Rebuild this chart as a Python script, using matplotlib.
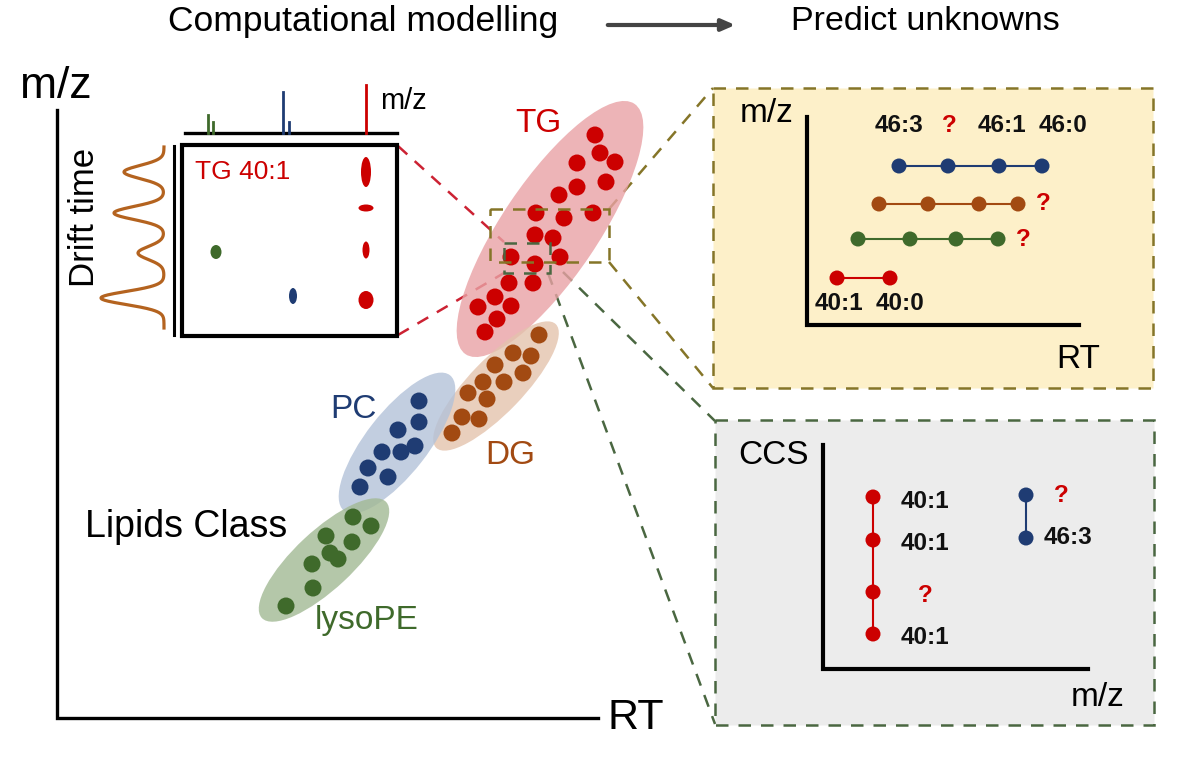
import numpy as np
import matplotlib
matplotlib.use("Agg")
import matplotlib.pyplot as plt
from matplotlib.patches import Ellipse, Rectangle

plt.rcParams['font.family'] = ['Liberation Sans', 'DejaVu Sans']

# ---------------------------------------------------
# colours
RED = '#cc0000'
BLUE = '#1f3c73'
BROWN = '#a24a12'
GREEN = '#3f6a2b'

# lipid class clusters (pixel positions)
tg_x = [595, 600, 615, 577, 606, 577, 559, 593, 536, 564, 535, 553, 511, 560, 535,
        509, 533, 495, 511, 478, 497, 485]
tg_y = [135, 153, 162, 163, 182, 187, 195, 213, 213, 218, 235, 238, 257, 257, 264,
        283, 283, 297, 306, 307, 319, 332]
dg_x = [539, 513, 531, 495, 523, 504, 483, 468, 487, 462, 479, 452]
dg_y = [335, 353, 356, 365, 373, 382, 382, 393, 399, 417, 419, 433]
pc_x = [419, 419, 398, 415, 401, 382, 368, 388, 360]
pc_y = [401, 422, 430, 446, 452, 452, 468, 477, 487]
pe_x = [353, 371, 326, 352, 330, 338, 312, 313, 286]
pe_y = [517, 526, 536, 542, 553, 559, 564, 588, 606]

# class ellipses: centre x, centre y, length, width, tilt (deg), colour
class_names = ['TG', 'DG', 'PC', 'lysoPE']
ell_cx = [550, 496, 397, 324]
ell_cy = [229, 386, 443, 560]
ell_len = [302, 172, 172, 170]
ell_wid = [96, 54, 62, 58]
ell_tilt = [56, 46, 52, 43]
ell_col = ['#e9a2a5', '#e4c3ad', '#b3c2d9', '#a2b994']

# drift-time chromatogram peaks
dt_pos = [172, 213, 253, 298]
dt_height = [40, 50, 26, 63]

# mass spectrum sticks above the inset: x, top, colour
ms_x = [208, 213, 283, 289, 366]
ms_top = [115, 122, 92, 122, 85]
ms_col = [GREEN, GREEN, BLUE, BLUE, RED]

# inset spots: x, y, w, h, colour
spot_x = [366, 366, 366, 366, 216, 293]
spot_y = [172, 208, 250, 300, 252, 296]
spot_w = [10, 15, 7, 15, 11, 8]
spot_h = [30, 7, 17, 18, 14, 16]
spot_col = [RED, RED, RED, RED, GREEN, BLUE]

# RT panel series
rt_rows = [
    ([899, 948, 999, 1042], 166, BLUE),
    ([879, 928, 979, 1018], 204, BROWN),
    ([858, 910, 956, 998], 239, GREEN),
    ([837, 890], 278, RED),
]
rt_top_labels = ['46:3', '?', '46:1', '46:0']
rt_top_x = [899, 949, 1002, 1063]

# CCS panel series
ccs_red_y = [497, 540, 592, 634]
ccs_red_labels = ['40:1', '40:1', '?', '40:1']
ccs_blue_y = [495, 538]
ccs_blue_labels = ['?', '46:3']

# ---------------------------------------------------
fig = plt.figure(figsize=(12, 7.76), dpi=100)
ax = fig.add_axes([0, 0, 1, 1])
ax.set_xlim(0, 1200)
ax.set_ylim(776, 0)
ax.axis('off')


def dot_size(r):
    return (2 * r * 72 / 100) ** 2


LBL = 17.5  # bold panel labels

# title
ax.text(363, 22, 'Computational modelling', fontsize=25.5, ha='center', va='center')
ax.annotate('', xy=(738, 25), xytext=(605, 25),
            arrowprops=dict(arrowstyle='-|>,head_length=0.8,head_width=0.35',
                            color='#444444', lw=3))
ax.text(925, 22, 'Predict unknowns', fontsize=24.5, ha='center', va='center')

# main axes
ax.plot([57, 57, 598], [110, 718, 718], color='black', lw=2.4, solid_joinstyle='miter')
ax.text(56, 86, 'm/z', fontsize=32, ha='center', va='center')
ax.text(636, 718, 'RT', fontsize=31, ha='center', va='center')
ax.text(186, 527, 'Lipids Class', fontsize=27, ha='center', va='center')

# connecting dashed lines (drawn first, under the clusters)
ax.plot([398, 504], [146, 242], color='#cc2233', lw=1.8, ls=(0, (5, 4)))
ax.plot([398, 504], [335, 273], color='#cc2233', lw=1.8, ls=(0, (5, 4)))
ax.plot([609, 713], [209, 88], color='#857528', lw=1.8, ls=(0, (5, 4)))
ax.plot([609, 713], [262, 388], color='#857528', lw=1.8, ls=(0, (5, 4)))
ax.plot([563, 715], [272, 421], color='#4a6741', lw=1.8, ls=(0, (5, 4)))
ax.plot([548, 715], [273, 724], color='#4a6741', lw=1.8, ls=(0, (5, 4)))

# class ellipses and dots
for cx, cy, ln, wd, tl, c in zip(ell_cx, ell_cy, ell_len, ell_wid, ell_tilt, ell_col):
    ax.add_patch(Ellipse((cx, cy), ln, wd, angle=-tl, facecolor=c, edgecolor='none',
                         alpha=0.8, zorder=2))
for xs, ys, c in [(tg_x, tg_y, RED), (dg_x, dg_y, BROWN), (pc_x, pc_y, BLUE), (pe_x, pe_y, GREEN)]:
    ax.scatter(xs, ys, s=dot_size(8.5), color=c, edgecolors='none', zorder=3)

ax.text(538, 124, 'TG', fontsize=24, color=RED, ha='center', va='center')
ax.text(353, 410, 'PC', fontsize=24, color=BLUE, ha='center', va='center')
ax.text(510, 455, 'DG', fontsize=24, color=BROWN, ha='center', va='center')
ax.text(367, 620, 'lysoPE', fontsize=24, color=GREEN, ha='center', va='center')

# zoom boxes on the TG cluster
ax.add_patch(Rectangle((490, 209), 119, 53, fill=False, edgecolor='#857528', lw=1.8,
                       ls=(0, (5, 4)), zorder=4))
ax.add_patch(Rectangle((504, 243), 46, 30, fill=False, edgecolor='#4a6741', lw=1.8,
                       ls=(0, (5, 4)), zorder=4))

# ---------------------------------------------------
# drift time / m/z inset
ax.add_patch(Rectangle((182, 145), 215, 191, fill=False, edgecolor='black', lw=3, zorder=4))
ax.plot([174, 174], [146, 335], color='black', lw=2.2)
ax.plot([185, 397], [133, 133], color='black', lw=2.4)
for x, t, c in zip(ms_x, ms_top, ms_col):
    ax.plot([x, x], [133, t], color=c, lw=2)
ax.text(380, 101, 'm/z', fontsize=21, ha='left', va='center')
ax.text(85, 217, 'Drift time', fontsize=25, rotation=90, ha='center', va='center')

yy = np.linspace(147, 328, 400)
xx = np.full_like(yy, 164.0)
for p, h in zip(dt_pos, dt_height):
    xx -= h * np.exp(-0.5 * ((yy - p) / 6.5) ** 2)
ax.plot(xx, yy, color='#b4631f', lw=2.3)

ax.text(195, 172, 'TG 40:1', fontsize=19, color=RED, ha='left', va='center')
for x, y, w, h, c in zip(spot_x, spot_y, spot_w, spot_h, spot_col):
    ax.add_patch(Ellipse((x, y), w, h, facecolor=c, edgecolor='none', zorder=5))

# ---------------------------------------------------
# RT prediction panel
ax.add_patch(Rectangle((713, 88), 440, 300, facecolor='#fdf0c9', edgecolor='#857528',
                       lw=1.8, ls=(0, (5, 4)), zorder=1))
ax.plot([807, 807, 1079], [117, 325, 325], color='black', lw=3, solid_joinstyle='miter')
ax.text(767, 113, 'm/z', fontsize=24, ha='center', va='center')
ax.text(1078, 360, 'RT', fontsize=24, ha='center', va='center')
for xs, y, c in rt_rows:
    ax.plot(xs, [y] * len(xs), color=c, lw=1.5, zorder=3)
    ax.scatter(xs, [y] * len(xs), s=dot_size(7.5), color=c, edgecolors='none', zorder=4)
for lab, x in zip(rt_top_labels, rt_top_x):
    ax.text(x, 126, lab, fontsize=LBL, fontweight='bold', ha='center', va='center',
            color=RED if lab == '?' else '#111111')
ax.text(1043, 204, '?', fontsize=LBL, fontweight='bold', color=RED, ha='center', va='center')
ax.text(1023, 239, '?', fontsize=LBL, fontweight='bold', color=RED, ha='center', va='center')
ax.text(839, 303, '40:1', fontsize=LBL, fontweight='bold', ha='center', va='center', color='#111111')
ax.text(900, 303, '40:0', fontsize=LBL, fontweight='bold', ha='center', va='center', color='#111111')

# ---------------------------------------------------
# CCS prediction panel
ax.add_patch(Rectangle((715, 420), 439, 305, facecolor='#ececec', edgecolor='#4a6741',
                       lw=1.8, ls=(0, (5, 4)), zorder=1))
ax.plot([823, 823, 1088], [445, 669, 669], color='black', lw=3, solid_joinstyle='miter')
ax.text(773, 455, 'CCS', fontsize=24, ha='center', va='center')
ax.text(1098, 698, 'm/z', fontsize=24, ha='center', va='center')
ax.plot([873] * 4, ccs_red_y, color=RED, lw=1.5, zorder=3)
ax.scatter([873] * 4, ccs_red_y, s=dot_size(7.5), color=RED, edgecolors='none', zorder=4)
for y, lab in zip(ccs_red_y, ccs_red_labels):
    ax.text(925, y + 4, lab, fontsize=LBL, fontweight='bold', ha='center', va='center',
            color=RED if lab == '?' else '#111111')
ax.plot([1026] * 2, ccs_blue_y, color=BLUE, lw=1.5, zorder=3)
ax.scatter([1026] * 2, ccs_blue_y, s=dot_size(7.5), color=BLUE, edgecolors='none', zorder=4)
ax.text(1061, 495, '?', fontsize=LBL, fontweight='bold', color=RED, ha='center', va='center')
ax.text(1068, 537, '46:3', fontsize=LBL, fontweight='bold', ha='center', va='center', color='#111111')

fig.savefig('out.png', dpi=100)
